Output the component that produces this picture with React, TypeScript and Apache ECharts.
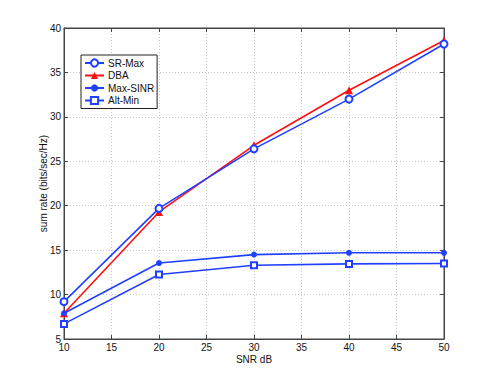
import React, { useEffect, useRef } from "react";
import * as echarts from "echarts";

const snr = [10, 20, 30, 40, 50];
const srMax = [9.2, 19.7, 26.4, 32.0, 38.2];
const dba = [7.9, 19.3, 26.8, 33.0, 38.6];
const maxSinr = [7.9, 13.55, 14.5, 14.7, 14.7];
const altMin = [6.7, 12.25, 13.3, 13.45, 13.5];
const xTicks = [10, 15, 20, 25, 30, 35, 40, 45, 50];
const yTicks = [5, 10, 15, 20, 25, 30, 35, 40];

const BLUE = "#2040ff";
const RED = "#ff1010";
const FONT = "Liberation Sans, Arial, sans-serif";

export default function App() {
  const ref = useRef<HTMLDivElement>(null);
  useEffect(() => {
    if (!ref.current) return;
    const chart = echarts.init(ref.current, undefined, { renderer: "svg" });
    const pair = (ys: number[]) => snr.map((x, i) => [x, ys[i]]);
    const axisLine = { show: true, lineStyle: { color: "#444", width: 1 } };
    const gridLine = { show: true, lineStyle: { color: "#c8c8c8", type: [1, 2] as any, width: 1 } };
    chart.setOption({
      animation: false,
      backgroundColor: "#fff",
      textStyle: { fontFamily: FONT },
      grid: { left: 64, right: 47, top: 28, bottom: 43, show: true, borderColor: "#444", borderWidth: 1 },
      legend: {
        orient: "vertical",
        left: 81,
        top: 55,
        padding: [3, 3, 3, 3],
        itemGap: 2.5,
        itemWidth: 19,
        itemHeight: 9,
        backgroundColor: "#fff",
        borderColor: "#222",
        borderWidth: 1,
        borderRadius: 0,
        textStyle: { fontFamily: FONT, fontSize: 10, color: "#111", padding: [0, 0, 0, -1] },
        data: ["SR-Max", "DBA", "Max-SINR", "Alt-Min"].map((n) => ({ name: n })),
      },
      xAxis: [
        {
          type: "value",
          min: 10,
          max: 50,
          interval: 5,
          name: "SNR dB",
          nameLocation: "middle",
          nameGap: 15,
          nameMoveOverlap: false,
          nameTextStyle: { fontFamily: FONT, fontSize: 10, color: "#111" },
          axisLine,
          axisTick: { show: true, inside: true, length: 4, lineStyle: { color: "#444" } },
          axisLabel: { fontFamily: FONT, fontSize: 10, color: "#111", margin: 3, formatter: (v: number) => (xTicks.includes(v) ? String(v) : "") },
          splitLine: gridLine,
        },
        {
          type: "value",
          position: "top",
          min: 10,
          max: 50,
          interval: 5,
          axisLine,
          axisTick: { show: true, inside: true, length: 4, lineStyle: { color: "#444" } },
          axisLabel: { show: false },
          splitLine: { show: false },
        },
      ],
      yAxis: [
        {
          type: "value",
          min: 5,
          max: 40,
          interval: 5,
          name: "sum rate (bits/sec/Hz)",
          nameLocation: "middle",
          nameRotate: 90,
          nameGap: 16,
          nameMoveOverlap: false,
          nameTextStyle: { fontFamily: FONT, fontSize: 10, color: "#111" },
          axisLine,
          axisTick: { show: true, inside: true, length: 4, lineStyle: { color: "#444" } },
          axisLabel: { fontFamily: FONT, fontSize: 10, color: "#111", margin: 3, formatter: (v: number) => (yTicks.includes(v) ? String(v) : "") },
          splitLine: gridLine,
        },
        {
          type: "value",
          position: "right",
          min: 5,
          max: 40,
          interval: 5,
          axisLine,
          axisTick: { show: true, inside: true, length: 4, lineStyle: { color: "#444" } },
          axisLabel: { show: false },
          splitLine: { show: false },
        },
      ],
      series: [
        {
          name: "SR-Max",
          type: "line",
          data: pair(srMax),
          symbol: "emptyCircle",
          symbolSize: 7,
          lineStyle: { color: BLUE, width: 1.6 },
          itemStyle: { color: BLUE, borderColor: BLUE, borderWidth: 1.5 },
          z: 3,
        },
        {
          name: "DBA",
          type: "line",
          data: pair(dba),
          symbol: "triangle",
          symbolSize: 8,
          lineStyle: { color: RED, width: 1.6 },
          itemStyle: { color: RED },
          z: 2,
        },
        {
          name: "Max-SINR",
          type: "line",
          data: pair(maxSinr),
          symbol: "circle",
          symbolSize: 6,
          lineStyle: { color: BLUE, width: 1.6 },
          itemStyle: { color: BLUE },
          z: 4,
        },
        {
          name: "Alt-Min",
          type: "line",
          data: pair(altMin),
          symbol: "emptyRect",
          symbolSize: 6,
          lineStyle: { color: BLUE, width: 1.6 },
          itemStyle: { color: BLUE, borderColor: BLUE, borderWidth: 1.5 },
          z: 3,
        },
      ],
    });
    return () => chart.dispose();
  }, []);
  return <div ref={ref} style={{ width: 491, height: 382, margin: -8 }} />;
}
